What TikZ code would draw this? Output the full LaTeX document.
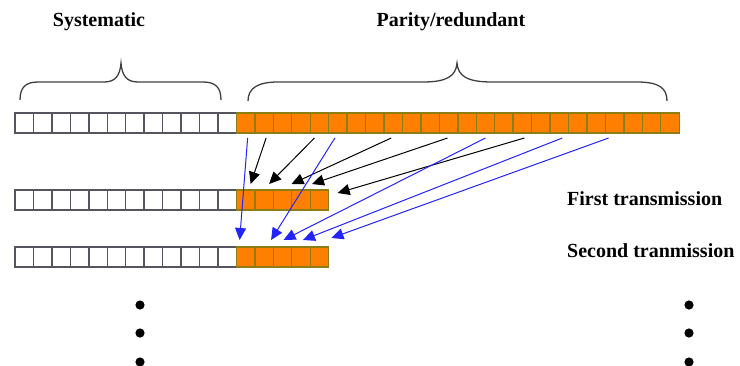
\documentclass[tikz,border=0pt]{standalone}
\usepackage{fontspec}
\setmainfont{Liberation Serif}
\usetikzlibrary{arrows.meta}
\definecolor{parityfill}{RGB}{255,128,0}
\definecolor{parityedge}{RGB}{140,125,20}
\definecolor{sysedge}{RGB}{85,85,95}
\definecolor{arrowblue}{RGB}{35,35,255}
\begin{document}
\begin{tikzpicture}[x=1pt,y=-1pt,
  syscell/.style={draw=sysedge, fill=white, line width=1.4pt,
    minimum width=18.45pt, minimum height=20pt, inner sep=0pt, outer sep=0pt},
  parcell/.style={draw=parityedge, fill=parityfill, line width=1.4pt,
    minimum width=18.45pt, minimum height=20pt, inner sep=0pt, outer sep=0pt},
  headtext/.style={font=\bfseries\fontsize{20}{22}\selectfont, inner sep=0pt},
  blackarrow/.style={draw=black, line width=1pt, -{Triangle[length=12pt,width=11pt]}},
  bluearrow/.style={draw=arrowblue, line width=1pt, -{Triangle[length=12pt,width=11pt]}},
  brace/.style={draw=black!75, line width=1.3pt},
  bigdot/.style={fill=black}]
\useasboundingbox (0,0) rectangle (740,365);

% headings
\node[headtext] (sys) at (99,22) {Systematic};
\node[headtext] (par) at (451,22) {Parity/redundant};

% braces over the two parts of the codeword
\draw[brace] (20,100) .. controls (20,87) and (26,82) .. (38,82) -- (104,82)
  .. controls (115,82) and (120,76) .. (121,63)
  .. controls (122,76) and (127,82) .. (138,82) -- (203,82)
  .. controls (215,82) and (221,87) .. (221,100);
\draw[brace] (248,101) .. controls (248,88) and (258,82) .. (278,82) -- (423,82)
  .. controls (447,82) and (456,76) .. (457,63)
  .. controls (458,76) and (467,82) .. (492,82) -- (637,82)
  .. controls (659,82) and (667,88) .. (667,101);

% full codeword
\foreach \i in {0,...,11}
  \node[syscell] (s\i) at ({15+18.45*(\i+0.5)},123) {};
\foreach \i in {0,...,23}
  \node[parcell] (p\i) at ({236.4+18.45*(\i+0.5)},123) {};

% first transmission
\foreach \i in {0,...,11}
  \node[syscell] (a\i) at ({15+18.45*(\i+0.5)},200) {};
\foreach \i in {0,...,4}
  \node[parcell] (ap\i) at ({236.4+18.45*(\i+0.5)},200) {};

% second transmission
\foreach \i in {0,...,11}
  \node[syscell] (b\i) at ({15+18.45*(\i+0.5)},257) {};
\foreach \i in {0,...,4}
  \node[parcell] (bp\i) at ({236.4+18.45*(\i+0.5)},257) {};

\node[headtext, anchor=west] (first) at (567,199) {First transmission};
\node[headtext, anchor=west] (second) at (567,251) {Second tranmission};

% parity bits selected for the first transmission
\draw[blackarrow] ([xshift=2pt,yshift=-5pt]p1.south)  -- ([xshift=5pt,yshift=6pt]ap0.north);
\draw[blackarrow] ([xshift=-5pt,yshift=-5pt]p4.south) -- ([xshift=5pt,yshift=6pt]ap1.north);
\draw[blackarrow] ([xshift=-2pt,yshift=-5pt]p8.south) -- ([xshift=9pt,yshift=6pt]ap2.north);
\draw[blackarrow] ([xshift=-1pt,yshift=-5pt]p11.south) -- ([xshift=11pt,yshift=6pt]ap3.north);
\draw[blackarrow] ([xshift=2pt,yshift=-5pt]p15.south) -- ([xshift=9pt,yshift=7pt]ap4.east);

% parity bits selected for the second transmission
\draw[bluearrow] ([xshift=2pt,yshift=-5pt]p0.south)  -- ([xshift=-6pt,yshift=7pt]bp0.north);
\draw[bluearrow] ([xshift=-3pt,yshift=-5pt]p5.south) -- ([xshift=7pt,yshift=7pt]bp1.north);
\draw[bluearrow] ([xshift=0pt,yshift=-5pt]p13.south) -- ([xshift=1pt,yshift=7pt]bp2.north);
\draw[bluearrow] ([xshift=3pt,yshift=-5pt]p17.south) -- ([xshift=2pt,yshift=7pt]bp3.north);
\draw[bluearrow] ([xshift=-6pt,yshift=-5pt]p20.south) -- ([xshift=12pt,yshift=9pt]bp4.north);

% continuation dots
\foreach \y in {305,333,362} {
  \fill[bigdot] (140,\y) circle (4.6pt);
  \fill[bigdot] (689,\y) circle (4.6pt);
}
\end{tikzpicture}
\end{document}
